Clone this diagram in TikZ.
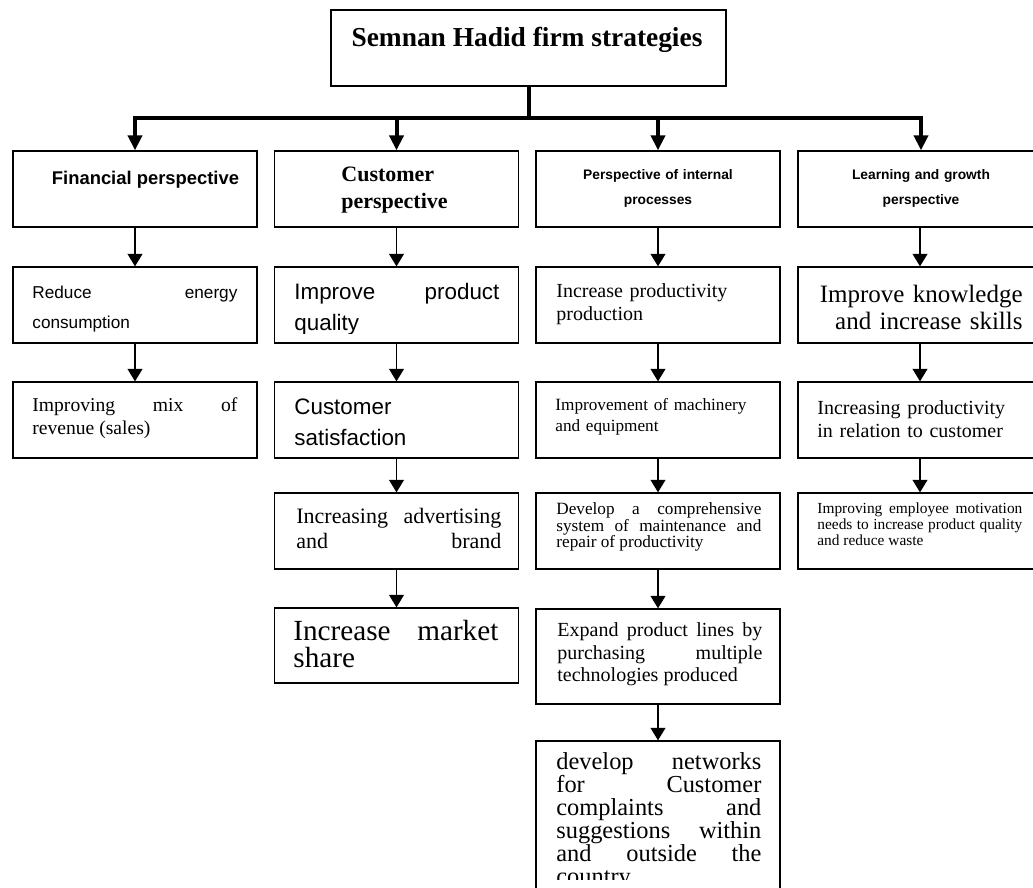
\documentclass[tikz,border=0pt]{standalone}
\usepackage{fontspec}
\setmainfont{Liberation Serif}
\setsansfont{Liberation Sans}
\usetikzlibrary{arrows.meta}
\newcommand{\setfs}[2]{\fontsize{#1}{#2}\selectfont}
\tikzset{
  headbox/.style={draw=black,line width=0.65pt,
                  minimum width=197.5pt,minimum height=38pt,inner sep=0pt},
  cellbox/.style={draw=black,line width=0.65pt,
                  minimum width=122pt,minimum height=38pt,inner sep=0pt},
  celltext/.style={inner sep=0pt,anchor=base west,text width=102.5pt,align=justify},
  lefttext/.style={inner sep=0pt,anchor=base west,text width=102.5pt,align=left},
  midtext/.style={inner sep=0pt,anchor=base,text width=102.5pt,align=center},
  linkarr/.style={-{Triangle[length=6.3pt,width=7.5pt]},line width=0.65pt},
  trunk/.style={line width=2pt},
  trunkarr/.style={-{Triangle[length=7.5pt,width=7pt]},line width=2pt}
}

\begin{document}
\begin{tikzpicture}[x=0.5pt,y=-0.5pt]
  \useasboundingbox (0,0) rectangle (1033,888);

  \node[headbox] (top) at (528.5,48) {};
  \node[inner sep=0pt,anchor=base,font=\bfseries\setfs{13.7}{16}] (top-t) at (527,46.7) {Semnan Hadid firm strategies};

  \node[cellbox] (fin) at (135,189) {};
  \node[cellbox] (cus) at (396.5,189) {};
  \node[cellbox] (int) at (658,189) {};
  \node[cellbox] (lrn) at (920,189) {};
  \node[inner sep=0pt,anchor=base,font=\sffamily\bfseries\setfs{9.2}{11}] (fin-t) at (145.5,184.2) {Financial perspective};
  \node[lefttext,font=\bfseries\setfs{11}{13.5}] (cus-t) at (341,181.2) {Customer\\perspective};
  \node[midtext,font=\sffamily\bfseries\setfs{6.9}{12.65}] (int-t) at (658,179.6) {Perspective of internal\\processes};
  \node[midtext,font=\sffamily\bfseries\setfs{6.9}{12.65}] (lrn-t) at (921,179.6) {Learning and growth\\perspective};

  \node[cellbox] (fin2) at (135,305) {};
  \node[cellbox] (cus2) at (396.5,305) {};
  \node[cellbox] (int2) at (658,305) {};
  \node[cellbox] (lrn2) at (920,305) {};
  \node[celltext,font=\sffamily\setfs{8.6}{15}] (fin2-t) at (32,298.8) {Reduce energy\linebreak consumption};
  \begin{scope}
    \clip (cus2.north west) rectangle ([yshift=5pt]cus2.south east);
    \node[celltext,font=\sffamily\setfs{11.2}{15.5}] (cus2-t) at (294,299.3) {Improve product\linebreak quality};
  \end{scope}
  \node[lefttext,font=\setfs{10}{11.5}] (int2-t) at (556,297.6) {Increase productivity\\production};
  \node[inner sep=0pt,anchor=base east,text width=102.5pt,align=right,font=\setfs{12.5}{13.75}] (lrn2-t) at (1023,302) {Improve knowledge\\and increase skills};

  \node[cellbox] (fin3) at (135,420) {};
  \node[cellbox] (cus3) at (396.5,420) {};
  \node[cellbox] (int3) at (658,420) {};
  \node[cellbox] (lrn3) at (920,420) {};
  \node[celltext,font=\setfs{9.8}{11.5}] (fin3-t) at (32,411.3) {Improving mix of\linebreak revenue (sales)};
  \node[lefttext,font=\sffamily\setfs{11.2}{15.5}] (cus3-t) at (294,414.3) {Customer\\satisfaction};
  \node[lefttext,font=\setfs{8.6}{10.3}] (int3-t) at (555,410.8) {Improvement of machinery\\and equipment};
  \node[lefttext,font=\setfs{10}{11.5}] (lrn3-t) at (817,414.2) {Increasing productivity\\in relation to customer};

  \node[cellbox] (cus4) at (396.5,531) {};
  \node[cellbox] (int4) at (658,531) {};
  \node[cellbox] (lrn4) at (920,531) {};
  \node[celltext,font=\setfs{11}{12.8}] (cus4-t) at (296,523.2) {Increasing advertising\linebreak and\hfill brand};
  \node[celltext,font=\setfs{8.6}{8.25}] (int4-t) at (556,514.8) {Develop a comprehensive\linebreak system of maintenance and\linebreak repair of productivity};
  \node[celltext,font=\setfs{7.7}{7}] (lrn4-t) at (817,513.4) {Improving employee motivation\linebreak needs to increase product quality\linebreak and reduce waste};

  \node[cellbox,minimum height=37.5pt] (cus5) at (396.5,645.5) {};
  \node[cellbox,minimum height=47.5pt] (int5) at (658,656.5) {};
  \node[celltext,font=\setfs{14.6}{13.5}] (cus5-t) at (293,640.2) {Increase market\linebreak share};
  \node[celltext,font=\setfs{10}{11.35}] (int5-t) at (557,636.3) {Expand product lines by\linebreak purchasing multiple\linebreak technologies produced};

  \node[cellbox,minimum height=82pt] (int6) at (658,823) {};
  \begin{scope}
    \clip (int6.north west) rectangle (780,879);
    \node[celltext,font=\setfs{12.2}{11.5}] (int6-t) at (556,769.8) {develop networks\linebreak for Customer\linebreak complaints and\linebreak suggestions within\linebreak and outside the\linebreak country};
  \end{scope}

  \coordinate (hub) at (528.5,118);
  \draw[trunk] (top.south) -- (hub);
  \draw[trunkarr] (hub) -| (fin.north);
  \draw[trunkarr] (hub) -| (cus.north);
  \draw[trunkarr] (hub) -| (int.north);
  \draw[trunkarr] (hub) -| ([xshift=0.5pt]lrn.north);

  \draw[linkarr] (fin.south) -- (fin2.north);
  \draw[linkarr] (fin2.south) -- (fin3.north);
  \draw[linkarr] (cus.south) -- (cus2.north);
  \draw[linkarr] (cus2.south) -- (cus3.north);
  \draw[linkarr] (cus3.south) -- (cus4.north);
  \draw[linkarr] (cus4.south) -- (cus5.north);
  \draw[linkarr] (int.south) -- (int2.north);
  \draw[linkarr] (int2.south) -- (int3.north);
  \draw[linkarr] (int3.south) -- (int4.north);
  \draw[linkarr] (int4.south) -- (int5.north);
  \draw[linkarr] (int5.south) -- (int6.north);
  \draw[linkarr] (lrn.south) -- (lrn2.north);
  \draw[linkarr] (lrn2.south) -- (lrn3.north);
  \draw[linkarr] (lrn3.south) -- (lrn4.north);
\end{tikzpicture}
\end{document}
